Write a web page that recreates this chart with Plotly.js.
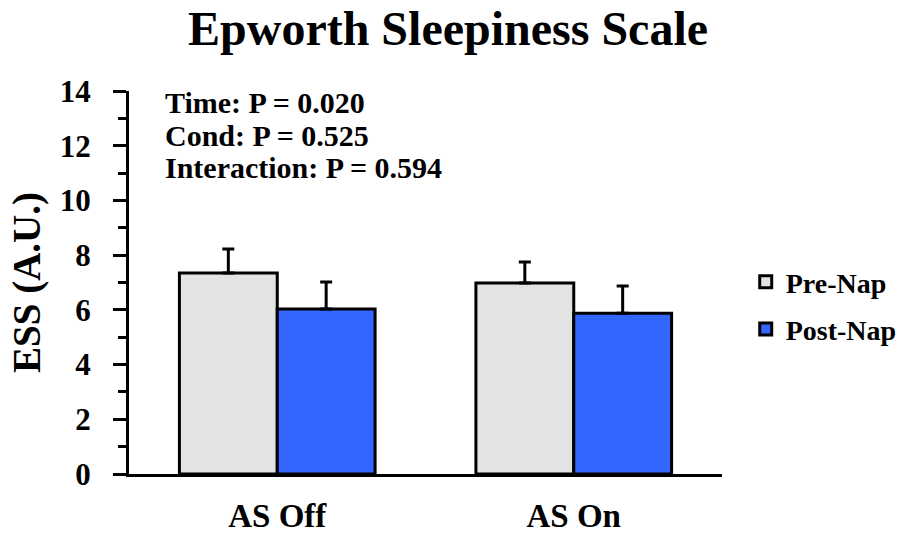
<!DOCTYPE html>
<html>
<head>
<meta charset="utf-8">
<script src="https://cdn.plot.ly/plotly-3.0.1.min.js"></script>
<style>
  html, body { margin: 0; padding: 0; background: #ffffff; }
  #chart { width: 904px; height: 533px; }
</style>
</head>
<body>
<div id="chart"></div>
<script>
// Epworth Sleepiness Scale, before and after the nap, per condition
const conditions = ["AS Off", "AS On"];
const preNap = [7.35, 6.98];
const preNapErr = [0.87, 0.77];
const postNap = [6.03, 5.88];
const postNapErr = [0.99, 0.99];
const statLines = [
  "Time: P = 0.020",
  "Cond: P = 0.525",
  "Interaction: P = 0.594"
];

const serif = "'Liberation Serif', 'Times New Roman', serif";

function barTrace(name, values, errs, fill, group) {
  return {
    type: "bar",
    name: "<b>" + name + "</b>",
    x: conditions,
    y: values,
    legendgroup: group,
    marker: { color: fill, line: { color: "#000000", width: 3 } },
    error_y: {
      type: "data",
      symmetric: false,
      array: errs,
      arrayminus: values.map(() => 0),
      color: "#000000",
      thickness: 3,
      width: 6
    }
  };
}

const data = [
  barTrace("Pre-Nap", preNap, preNapErr, "#e3e3e3", "a"),
  barTrace("Post-Nap", postNap, postNapErr, "#3366ff", "b")
];

const statY = [0.971, 0.885, 0.799];
const annotations = statLines.map((t, i) => ({
  text: "<b>" + t + "</b>",
  xref: "paper", yref: "paper",
  x: 0.058, y: statY[i],
  xanchor: "left", yanchor: "middle",
  showarrow: false,
  font: { family: serif, size: 30, color: "#000000" }
}));

const layout = {
  width: 904,
  height: 533,
  margin: { l: 129, r: 182, t: 91, b: 59, pad: 0, autoexpand: false },
  paper_bgcolor: "#ffffff",
  plot_bgcolor: "#ffffff",
  font: { family: serif, color: "#000000" },
  title: {
    text: "<b>Epworth Sleepiness Scale</b>",
    font: { family: serif, size: 48, color: "#000000" },
    xref: "container", yref: "container",
    x: 0.4956, y: 0.948,
    xanchor: "center", yanchor: "middle"
  },
  barmode: "group",
  bargap: 0.34,
  bargroupgap: 0,
  xaxis: {
    type: "category",
    range: [-0.5, 1.5],
    showline: true,
    linecolor: "#000000",
    linewidth: 3,
    ticks: "",
    showgrid: false,
    zeroline: false,
    automargin: false,
    tickfont: { family: serif, size: 33, color: "#000000" },
    ticklabelstandoff: 10,
    tickprefix: "<b>", ticksuffix: "</b>",
    fixedrange: true
  },
  yaxis: {
    range: [0, 14],
    dtick: 2,
    tick0: 0,
    showline: true,
    linecolor: "#000000",
    linewidth: 3,
    ticks: "outside",
    ticklen: 13,
    tickwidth: 3,
    tickcolor: "#000000",
    minor: { dtick: 1, ticks: "outside", ticklen: 8, tickwidth: 3, tickcolor: "#000000", showgrid: false },
    showgrid: false,
    zeroline: false,
    automargin: false,
    tickfont: { family: serif, size: 31, color: "#000000" },
    tickprefix: "<b>", ticksuffix: "</b>",
    ticklabelstandoff: 16,
    title: {
      text: "<b>ESS (A.U.)</b>",
      font: { family: serif, size: 39, color: "#000000" },
      standoff: 8
    },
    fixedrange: true
  },
  showlegend: true,
  legend: {
    x: 1.04, y: 0.44,
    xanchor: "left", yanchor: "middle",
    font: { family: serif, size: 28, color: "#000000" },
    traceorder: "grouped",
    tracegroupgap: 8,
    bgcolor: "rgba(0,0,0,0)",
    itemwidth: 30
  },
  annotations: annotations
};

Plotly.newPlot("chart", data, layout, { displayModeBar: false, staticPlot: true });
</script>
</body>
</html>
